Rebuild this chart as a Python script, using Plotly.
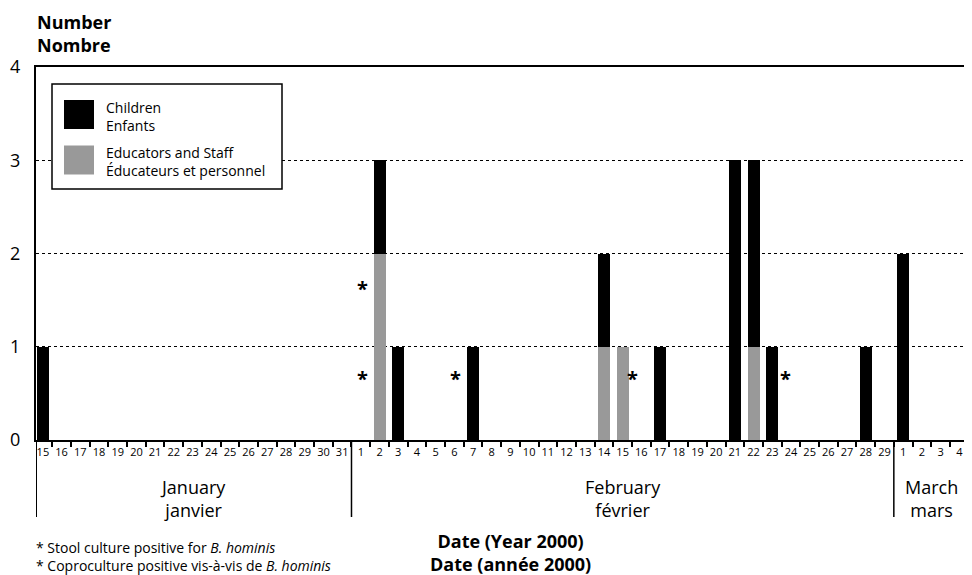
import plotly.graph_objects as go

# ---- data ----
jan_days = list(range(15, 32))
feb_days = list(range(1, 30))
mar_days = list(range(1, 5))
day_labels = [str(d) for d in jan_days + feb_days + mar_days]

# counts keyed by (month, day)
children_cases = {("Jan", 15): 1, ("Feb", 2): 1, ("Feb", 3): 1, ("Feb", 7): 1, ("Feb", 14): 1,
                  ("Feb", 17): 1, ("Feb", 21): 3, ("Feb", 22): 2, ("Feb", 23): 1,
                  ("Feb", 28): 1, ("Mar", 1): 2}
staff_cases = {("Feb", 2): 2, ("Feb", 14): 1, ("Feb", 15): 1, ("Feb", 22): 1}

# asterisks: (position in day units from Jan 15, count level)
star_x = [17.1, 17.1, 22.05, 31.55, 39.7]
star_y = [1.63, 0.66, 0.66, 0.66, 0.66]

months = ["January<br>janvier", "February<br>février", "March<br>mars"]
month_sizes = [len(jan_days), len(feb_days), len(mar_days)]

series_names = ["Children<br>Enfants", "Educators and Staff<br>Éducateurs et personnel"]
series_colors = ["#000000", "#999999"]

# ---- build ----
keys = [("Jan", d) for d in jan_days] + [("Feb", d) for d in feb_days] + [("Mar", d) for d in mar_days]
xs = list(range(len(keys)))
children = [children_cases.get(k, 0) for k in keys]
staff = [staff_cases.get(k, 0) for k in keys]

FONT = "Open Sans"
fig = go.Figure()
fig.add_trace(go.Bar(x=xs, y=staff, marker=dict(color=series_colors[1], line=dict(width=0)),
                     width=0.64, name=series_names[1], showlegend=False))
fig.add_trace(go.Bar(x=xs, y=children, marker=dict(color=series_colors[0], line=dict(width=0)),
                     width=0.64, name=series_names[0], showlegend=False))

# page body has an 8px margin; figure is sized so plot area lands where the reference has it
OFF = 8
L, T, W, H = 36, 67, 936, 373      # plot area in page pixels
def px(x):
    return (x - L) / W
def py(y):
    return (T + H - y) / H

xmin, xmax = -0.37, 49.68
fig.update_layout(
    width=972 - OFF, height=575 - OFF, barmode="stack", bargap=0,
    margin=dict(l=L - OFF, r=0, t=T - OFF, b=575 - T - H),
    plot_bgcolor="white", paper_bgcolor="white",
    font=dict(family=FONT, color="black"),
    xaxis=dict(range=[xmin, xmax], tickvals=xs, ticktext=day_labels, ticks="",
               tickfont=dict(size=11, family=FONT), ticklabelstandoff=1, automargin=False,
               showgrid=False, zeroline=False, showline=True, linecolor="black",
               linewidth=2, mirror=True,
               minor=dict(tickvals=[i + 0.5 for i in xs], ticks="outside", ticklen=5,
                          tickcolor="black", tickwidth=1.5, showgrid=False)),
    yaxis=dict(range=[0, 4], tickvals=[0, 1, 2, 3, 4], ticks="", tickfont=dict(size=18, family=FONT),
               ticklabelstandoff=10, automargin=False,
               showgrid=True, gridcolor="black", griddash="dot", gridwidth=1.3,
               zeroline=False, showline=True, linecolor="black", linewidth=2),
)

shapes = []
# month separators (left axis extension and boundaries)
bounds = [xmin]
acc = -0.5
for s in month_sizes[:-1]:
    acc += s
    bounds.append(acc)
for i, b in enumerate(bounds):
    shapes.append(dict(type="line", xref="x", yref="paper", x0=b, x1=b,
                       y0=0, y1=py(517), line=dict(color="black", width=2 if i == 0 else 1.5)))
# legend box
shapes.append(dict(type="rect", xref="paper", yref="paper",
                   x0=px(52), x1=px(282), y0=py(189), y1=py(84),
                   fillcolor="white", line=dict(color="black", width=1.5), layer="above"))
for j, yc in enumerate([114.5, 160]):
    shapes.append(dict(type="rect", xref="paper", yref="paper",
                       x0=px(64), x1=px(94), y0=py(yc + 14.5), y1=py(yc - 14.5),
                       fillcolor=series_colors[j], line=dict(width=0), layer="above"))
fig.update_layout(shapes=shapes)

ann = []
for j, yc in enumerate([116, 161]):
    ann.append(dict(xref="paper", yref="paper", x=px(104), y=py(yc),
                    text=series_names[j], showarrow=False, xanchor="left", yanchor="middle",
                    align="left", font=dict(size=14, family=FONT)))
# month labels
start = -0.5
for m, s in zip(months, month_sizes):
    ann.append(dict(xref="x", yref="paper", x=start + s / 2, y=py(498), text=m,
                    showarrow=False, xanchor="center", yanchor="middle", align="center",
                    font=dict(size=18, family=FONT)))
    start += s
# asterisks
for sx, sy in zip(star_x, star_y):
    ann.append(dict(xref="x", yref="y", x=sx, y=sy, text="<b>*</b>", showarrow=False,
                    font=dict(size=20, family=FONT), yanchor="middle"))
# y title
ann.append(dict(xref="paper", yref="paper", x=px(35), y=py(34),
                text="<b>Number<br>Nombre</b>", showarrow=False, xanchor="left", yanchor="middle",
                align="left", font=dict(size=18, family=FONT)))
# x title
ann.append(dict(xref="paper", yref="paper", x=px(510), y=py(552),
                text="<b>Date (Year 2000)<br>Date (année 2000)</b>", showarrow=False,
                xanchor="center", yanchor="middle", align="center", font=dict(size=18, family=FONT)))
# footnote
ann.append(dict(xref="paper", yref="paper", x=px(34), y=py(556),
                text="* Stool culture positive for <i>B. hominis</i><br>* Coproculture positive vis-à-vis de <i>B. hominis</i>",
                showarrow=False, xanchor="left", yanchor="middle", align="left",
                font=dict(size=14, family=FONT)))
fig.update_layout(annotations=ann)

fig.write_html("out.html")
